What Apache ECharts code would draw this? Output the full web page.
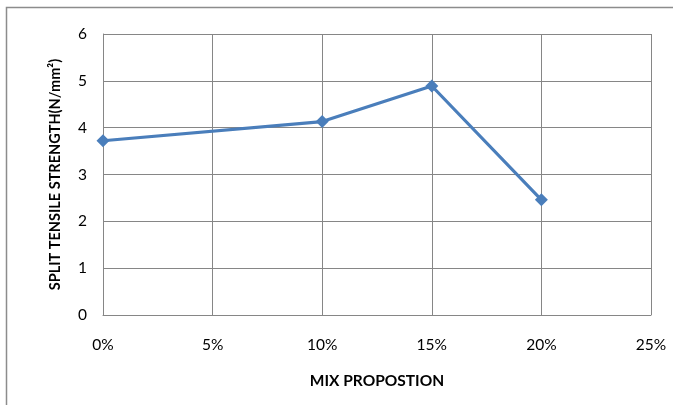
<!DOCTYPE html>
<html>
<head>
<meta charset="utf-8">
<script src="https://cdn.jsdelivr.net/npm/echarts@6/dist/echarts.min.js"></script>
<style>
  html, body { margin: 0; padding: 0; background: #fff; }
  #chart { width: 673px; height: 405px; }
</style>
</head>
<body>
<div id="chart"></div>
<script>
// Mix proportion (%) and split tensile strength (N/mm²)
const mixPercent = [0, 10, 15, 20];
const strength = [3.72, 4.13, 4.89, 2.46];
const xTicks = [0, 5, 10, 15, 20, 25];
const yTicks = [0, 1, 2, 3, 4, 5, 6];

const fontFamily = 'Lato, "Open Sans", sans-serif';
const chart = echarts.init(document.getElementById('chart'), null, { renderer: 'canvas' });

chart.setOption({
  animation: false,
  backgroundColor: '#fff',
  graphic: [{
    type: 'rect',
    shape: { x: 6.5, y: 7.5, width: 700, height: 500 },
    style: { fill: 'none', stroke: '#8c8c8c', lineWidth: 1.5 },
    silent: true
  }],
  grid: { left: 103, right: 22, top: 34, bottom: 90 },
  xAxis: {
    type: 'value',
    min: xTicks[0],
    max: xTicks[xTicks.length - 1],
    interval: 5,
    name: 'MIX PROPOSTION',
    nameLocation: 'middle',
    nameGap: 58,
    nameTextStyle: { fontFamily, fontWeight: 'bold', fontSize: 15.5, color: '#000' },
    axisLine: { show: true, lineStyle: { color: '#868686' } },
    axisTick: { show: false },
    axisLabel: { formatter: '{value}%', fontFamily, fontSize: 15.5, color: '#000', margin: 22 },
    splitLine: { show: true, lineStyle: { color: '#868686', width: 1 } }
  },
  yAxis: {
    type: 'value',
    min: yTicks[0],
    max: yTicks[yTicks.length - 1],
    interval: 1,
    name: 'SPLIT TENSILE STRENGTH(N/mm²)',
    nameLocation: 'middle',
    nameGap: 40,
    nameTextStyle: { fontFamily, fontWeight: 'bold', fontSize: 14.5, color: '#000' },
    axisLine: { show: true, lineStyle: { color: '#868686' } },
    axisTick: { show: false },
    axisLabel: { fontFamily, fontSize: 15.5, color: '#000', margin: 16 },
    splitLine: { show: true, lineStyle: { color: '#868686', width: 1 } }
  },
  series: [{
    type: 'line',
    data: mixPercent.map((x, i) => [x, strength[i]]),
    symbol: 'diamond',
    symbolSize: 13,
    lineStyle: { color: '#4a7ebb', width: 3.2 },
    itemStyle: { color: '#4a7ebb' }
  }]
});
</script>
</body>
</html>
